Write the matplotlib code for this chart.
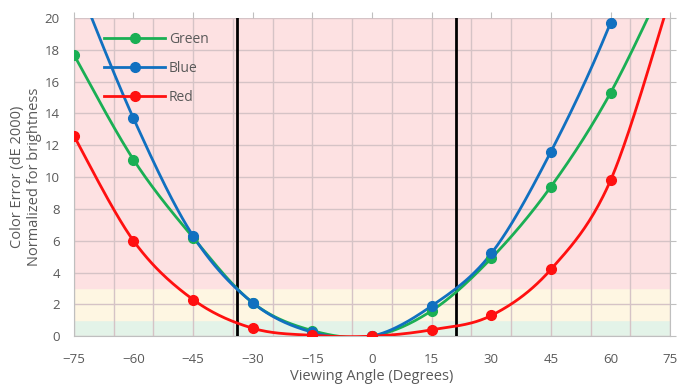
import numpy as np
import matplotlib.pyplot as plt

# Data
angles = [-75, -60, -45, -30, -15, 0, 15, 30, 45, 60, 75]
green = [17.7, 11.1, 6.2, 2.1, 0.35, 0.0, 1.6, 4.9, 9.4, 15.3, 23.0]
blue = [22.8, 13.7, 6.3, 2.1, 0.25, 0.0, 1.9, 5.2, 11.6, 19.7, 30.0]
red = [12.6, 6.0, 2.3, 0.5, 0.05, 0.0, 0.4, 1.3, 4.2, 9.8, 21.3]
limits = [-34, 21]

series = [('Green', green, '#1AAF54'), ('Blue', blue, '#1170C0'), ('Red', red, '#FF1010')]


def smooth(x, y, n=40):
    # Excel-style smoothed line (Catmull-Rom bezier segments)
    x = np.asarray(x, float)
    y = np.asarray(y, float)
    px = np.concatenate([[x[0]], x, [x[-1]]])
    py = np.concatenate([[y[0]], y, [y[-1]]])
    xs, ys = [], []
    t = np.linspace(0, 1, n)
    for i in range(1, len(px) - 2):
        p0 = np.array([px[i], py[i]])
        p3 = np.array([px[i + 1], py[i + 1]])
        c1 = p0 + (np.array([px[i + 1], py[i + 1]]) - np.array([px[i - 1], py[i - 1]])) / 6
        c2 = p3 - (np.array([px[i + 2], py[i + 2]]) - np.array([px[i], py[i]])) / 6
        b = ((1 - t) ** 3)[:, None] * p0 + (3 * (1 - t) ** 2 * t)[:, None] * c1 \
            + (3 * (1 - t) * t ** 2)[:, None] * c2 + (t ** 3)[:, None] * p3
        xs.extend(b[:, 0])
        ys.extend(b[:, 1])
    return xs, ys


plt.rcParams['font.family'] = ['Open Sans', 'DejaVu Sans']
fig = plt.figure(figsize=(6.96, 3.9), dpi=100)
ax = fig.add_axes([0.106, 0.138, 0.857, 0.816])

ax.axhspan(0, 1, color='#E3F3E8', zorder=0)
ax.axhspan(1, 3, color='#FEF6E2', zorder=0)
ax.axhspan(3, 20, color='#FDE1E2', zorder=0)

for gx in np.arange(-75, 76, 10):
    ax.axvline(gx, color='#D5C3C6', lw=1, zorder=1)
for gy in np.arange(0, 21, 2):
    ax.axhline(gy, color='#D5C3C6', lw=1, zorder=1)

for xv in limits:
    ax.axvline(xv, color='black', lw=2, zorder=4)

for name, vals, col in series:
    sx, sy = smooth(angles, vals)
    ax.plot(sx, sy, color=col, lw=2, zorder=5)
    ax.plot(angles, vals, 'o', color=col, ms=7, zorder=6)
    ax.plot([], [], '-o', color=col, lw=2, ms=7, label=name)

ax.set_xlim(-75, 75)
ax.set_ylim(0, 20)
ax.set_xticks(range(-75, 76, 15))
ax.set_yticks(range(0, 21, 2))
ax.tick_params(axis='both', colors='#595959', labelsize=9.5, length=0, pad=8)
ax.tick_params(axis='x', top=True, length=4, color='#BFBFBF', labeltop=False)
ax.tick_params(axis='x', bottom=False)
ax.tick_params(axis='y', right=True, length=4, color='#BFBFBF', labelright=False, left=False)
ax.tick_params(axis='y', pad=6)
for s in ['left', 'bottom', 'right']:
    ax.spines[s].set_color('#BFBFBF')
ax.spines['top'].set_visible(False)

ax.set_xlabel('Viewing Angle (Degrees)', color='#595959', fontsize=10.5, labelpad=2)
ax.set_ylabel('Color Error (dE 2000)\nNormalized for brightness', color='#595959',
              fontsize=10.5, labelpad=2)

leg = ax.legend(loc='upper left', bbox_to_anchor=(0.03, 0.995), frameon=False,
                fontsize=10, labelspacing=1.0, handlelength=4.4, handletextpad=0.25)
for t in leg.get_texts():
    t.set_color('#595959')

fig.savefig('out.png', dpi=100)
